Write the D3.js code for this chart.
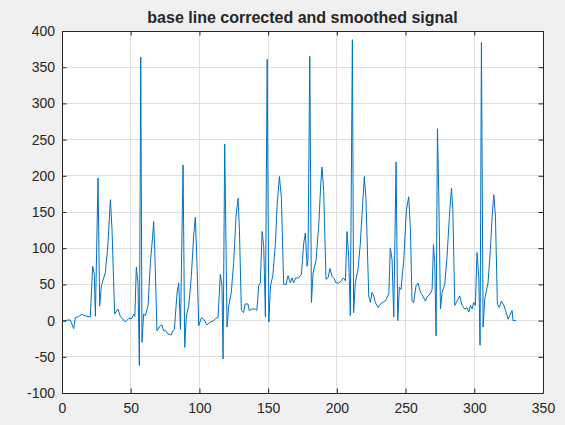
<!DOCTYPE html>
<html>
<head>
<meta charset="utf-8">
<script src="https://cdn.jsdelivr.net/npm/d3@7"></script>
<style>
  html, body { margin: 0; padding: 0; background: #f0f0f0; }
  svg { display: block; }
  text { font-family: "Liberation Sans", Arial, sans-serif; fill: #262626; }
</style>
</head>
<body>
<svg id="chart"></svg>
<script>
const width = 565
const height = 425

const title = 'base line corrected and smoothed signal'
const xTicks = [0, 50, 100, 150, 200, 250, 300, 350]
const yTicks = [-100, -50, 0, 50, 100, 150, 200, 250, 300, 350, 400]

// signal samples
const sampleX = [
  1, 6, 8.5, 9.7, 12, 14.6, 15.8, 18.2, 20.6, 22.3, 23.5, 24.3, 26.2, 27.4, 28.6, 31.5, 33.5, 35.2, 36.4, 38.3,
  40.7, 42.4, 46.1, 48.5, 50.9, 52.1, 53, 54.1, 55.3, 56.3, 57.3, 58.2, 59.4, 60.7, 62.6, 64.3, 66, 66.7, 67.4, 69.1,
  71.5, 72.7, 74, 75.5, 76.9, 79.4, 80.6, 81.8, 83.7, 84.9, 86.2, 88.1, 89.3, 90.5, 92.2, 94.1, 95.8, 97, 98.2, 99.5,
  101.4, 103, 105.5, 107.9, 110.4, 111.6, 113.5, 115.2, 116.4, 117.2, 118.4, 120.1, 121.3, 123.2, 124.9, 126.6, 128.1, 129.1, 130.5, 132.1,
  133.3, 135.3, 136.2, 138.2, 140.6, 141.8, 143.1, 144.3, 145.6, 146.8, 148, 149.3, 150.5, 151.7, 153.4, 155.3, 156.5, 158.2, 159.6, 161.3,
  163, 164.5, 166.2, 167.4, 168.6, 170, 172.3, 174.2, 175.9, 177.1, 178.3, 179, 180.3, 181.5, 182.7, 184.9, 186.9, 188.3, 189.2, 190.4,
  192.1, 193.6, 195, 196.5, 198, 199.4, 201.3, 203.3, 204.7, 206.2, 207.4, 208.6, 209.8, 211.3, 212.2, 213.4, 215.4, 217.1, 218.8, 220,
  221.2, 223.2, 224.4, 225.6, 226.8, 228, 230, 231.7, 234.1, 235.3, 237.8, 238.9, 240.2, 241.4, 243.1, 244.3, 245.5, 246.7, 248.7, 250.6,
  252.3, 253.5, 254.7, 255.9, 257.6, 259.1, 260.8, 262.5, 264.4, 266.1, 268, 269.3, 270.3, 271.2, 272.2, 273.2, 274.1, 275.4, 276.6, 278.5,
  280.2, 281.9, 283.4, 284.4, 285.8, 287.5, 289.4, 291.1, 293, 294.7, 296, 297.2, 298.4, 299.6, 300.8, 302, 303.3, 304.2, 305.2, 306.4,
  307.6, 310, 311.7, 313, 314.2, 315.4, 316.8, 318.3, 319.7, 321.5, 322.7, 324.6, 325.8, 327.5, 328.2, 330.4
]
const sampleY = [
  0, 1, -11, 4, 5.5, 9, 7, 6, 5, 75, 64, 6, 197, 20, 48, 66, 107, 167, 126, 9,
  16, 6, -2, 3, 3, 9, 6, 74, 52, -62, 364, -30, 9, 7, 20, 80, 117, 137, 103, -14,
  -7, -6, -14, -14, -18, -20, -14, -12, 38, 52, -12, 215, -37, 6, 20, 61, 117, 143, 80, -7,
  4, 2, -6, -2, 0, 3, 4, 64, 48, -53, 244, -9, 20, 39, 80, 144, 169, 126, 14, 11,
  23, 23, 14, 16, 16, 14, 48, 52, 123, 103, 5, 361, -2, 48, 62, 107, 158, 199, 171, 50,
  50, 62, 52, 59, 52, 59, 59, 64, 107, 121, 75, 84, 365, 25, 66, 84, 135, 189, 212, 180,
  57, 59, 72, 61, 58, 52, 52, 55, 59, 55, 123, 89, 7, 388, 11, 52, 71, 107, 162, 199,
  167, 34, 25, 39, 34, 25, 18, 23, 26, 27, 37, 100, 84, 5, 219, 0, 46, 43, 84, 153,
  171, 126, 27, 25, 48, 52, 39, 34, 27, 34, 37, 43, 105, 80, -21, 265, 180, 16, 39, 50,
  89, 144, 183, 153, 21, 27, 34, 21, 16, 18, 12, 21, 16, 25, 21, 94, 59, -34, 384, -9,
  30, 52, 98, 144, 174, 144, 23, 18, 27, 21, 14, 2, 7, 14, 0, 0
]

const margin = { top: 31, right: 22, bottom: 32, left: 62 }
const plotW = width - margin.left - margin.right
const plotH = height - margin.top - margin.bottom

const svg = d3.select('#chart').attr('width', width).attr('height', height)

svg.append('rect')
  .attr('width', width)
  .attr('height', height)
  .attr('fill', '#f0f0f0')

const g = svg.append('g').attr('transform', `translate(${margin.left},${margin.top})`)

const x = d3.scaleLinear().domain([0, 350]).range([0, plotW])
const y = d3.scaleLinear().domain([-100, 400]).range([plotH, 0])

g.append('rect')
  .attr('width', plotW)
  .attr('height', plotH)
  .attr('fill', '#ffffff')

// grid
g.append('g')
  .selectAll('line')
  .data(xTicks.slice(1, -1))
  .join('line')
  .attr('x1', (d) => x(d))
  .attr('x2', (d) => x(d))
  .attr('y1', 0)
  .attr('y2', plotH)
  .attr('stroke', '#dfdfdf')
  .attr('stroke-width', 1)
  .attr('shape-rendering', 'crispEdges')

g.append('g')
  .selectAll('line')
  .data(yTicks.slice(1, -1))
  .join('line')
  .attr('x1', 0)
  .attr('x2', plotW)
  .attr('y1', (d) => y(d))
  .attr('y2', (d) => y(d))
  .attr('stroke', '#dfdfdf')
  .attr('stroke-width', 1)
  .attr('shape-rendering', 'crispEdges')

// signal
const samples = sampleX.map((v, i) => [v, sampleY[i]])
g.append('path')
  .datum(samples)
  .attr('fill', 'none')
  .attr('stroke', '#0072bd')
  .attr('stroke-width', 1)
  .attr('stroke-linejoin', 'round')
  .attr('d', d3.line().x((d) => x(d[0])).y((d) => y(d[1])))

// axes, ticks pointing inward like matlab
const tickLen = 4.5
const plain = (d) => String(d) // matlab uses a plain hyphen for minus
const styleAxis = (sel) => {
  sel.select('.domain').attr('stroke', '#262626')
  sel.selectAll('.tick line').attr('stroke', '#262626')
  sel.selectAll('.tick text').style('font-size', '14px').attr('fill', '#262626')
}

g.append('g')
  .attr('transform', `translate(0,${plotH})`)
  .call(d3.axisBottom(x).tickValues(xTicks).tickFormat(plain).tickSize(-tickLen).tickSizeOuter(0).tickPadding(10))
  .call(styleAxis)

g.append('g')
  .call(d3.axisLeft(y).tickValues(yTicks).tickFormat(plain).tickSize(-tickLen).tickSizeOuter(0).tickPadding(7))
  .call(styleAxis)

g.append('g')
  .call(d3.axisTop(x).tickValues(xTicks).tickSize(-tickLen).tickSizeOuter(0).tickFormat(''))
  .call(styleAxis)

g.append('g')
  .attr('transform', `translate(${plotW},0)`)
  .call(d3.axisRight(y).tickValues(yTicks).tickSize(-tickLen).tickSizeOuter(0).tickFormat(''))
  .call(styleAxis)

g.selectAll('.domain').attr('stroke-width', 1)

svg.append('text')
  .attr('x', margin.left + plotW / 2)
  .attr('y', 23)
  .attr('text-anchor', 'middle')
  .style('font-size', '16px')
  .style('font-weight', 'bold')
  .attr('fill', '#000')
  .text(title)
</script>
</body>
</html>
